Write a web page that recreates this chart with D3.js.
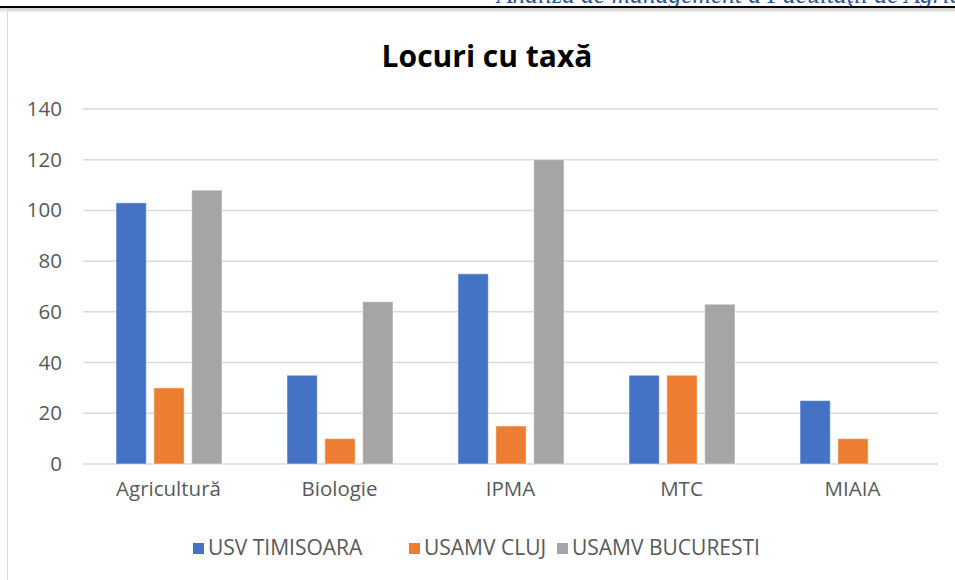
<!DOCTYPE html>
<html>
<head>
<meta charset="utf-8">
<script src="https://cdn.jsdelivr.net/npm/d3@7"></script>
<style>
	body { margin: 0; background: #fff; }
	svg { display: block; }
</style>
</head>
<body>

<svg width="955" height="580"></svg>

<script type="text/javascript">

	var categories = ["Agricultură", "Biologie", "IPMA", "MTC", "MIAIA"];
	var seriesNames = ["USV TIMISOARA", "USAMV CLUJ", "USAMV BUCURESTI"];
	var usvTimisoara = [103, 35, 75, 35, 25];
	var usamvCluj = [30, 10, 15, 35, 10];
	var usamvBucuresti = [108, 64, 120, 63, 0];
	var yTicks = [0, 20, 40, 60, 80, 100, 120, 140];
	var colors = ["#4472C4", "#ED7D31", "#A5A5A5"];

	var values = [usvTimisoara, usamvCluj, usamvBucuresti];
	var rows = categories.map(function(c, i) {
		return { cat: c, vals: values.map(function(s) { return s[i]; }) };
	});

	var svg = d3.select("svg");
	var font = "Open Sans, Liberation Sans, sans-serif";

	// page header text, cut off by the top edge
	svg.append("text")
		.attr("x", 497)
		.attr("y", 3)
		.attr("font-family", "Liberation Serif, DejaVu Serif, serif")
		.attr("font-style", "italic")
		.attr("font-size", 25.5)
		.attr("fill", "#2F5496")
		.text("Analiza de management a Facultăţii de Agricultură");

	// shadow under the header rule
	var grad = svg.append("defs").append("linearGradient")
		.attr("id", "shade").attr("x1", 0).attr("y1", 0).attr("x2", 0).attr("y2", 1);
	grad.append("stop").attr("offset", "0%").attr("stop-color", "#cfcfcf");
	grad.append("stop").attr("offset", "100%").attr("stop-color", "#ffffff");
	svg.append("rect").attr("x", 0).attr("y", 8).attr("width", 955).attr("height", 5).attr("fill", "url(#shade)");

	svg.append("line")
		.attr("x1", 0).attr("x2", 955).attr("y1", 7).attr("y2", 7)
		.attr("stroke", "#000").attr("stroke-width", 2);

	// chart frame
	svg.append("rect")
		.attr("x", 7.5).attr("y", 10.5)
		.attr("width", 1000).attr("height", 600)
		.attr("fill", "none")
		.attr("stroke", "#d9d9d9");

	var x0 = d3.scaleBand().domain(categories).range([83, 938]).paddingInner(0).paddingOuter(0);
	var x1 = d3.scaleBand().domain(seriesNames).range([33, 139]).paddingInner(0.2);
	var y = d3.scaleLinear().domain([0, 140]).range([464, 109]);

	// gridlines
	svg.append("g").selectAll("line").data(yTicks).enter().append("line")
		.attr("x1", 83).attr("x2", 938)
		.attr("y1", function(d) { return y(d); })
		.attr("y2", function(d) { return y(d); })
		.attr("stroke", "#d9d9d9")
		.attr("stroke-width", 1.5);

	// y axis labels
	var yAxis = d3.axisLeft(y).tickValues(yTicks).tickSize(0).tickPadding(0);
	var gy = svg.append("g").attr("transform", "translate(62,0)").call(yAxis);
	gy.select(".domain").remove();
	gy.selectAll("text")
		.attr("font-family", font)
		.attr("font-size", 20.5)
		.attr("fill", "#595959");

	// bars
	var grp = svg.append("g").selectAll("g").data(rows).enter().append("g")
		.attr("transform", function(d) { return "translate(" + x0(d.cat) + ",0)"; });

	grp.selectAll("rect").data(function(d) { return d.vals; }).enter().append("rect")
		.filter(function(d) { return d > 0; })
		.attr("x", function(d, i) { return x1(seriesNames[i]); })
		.attr("y", function(d) { return y(d); })
		.attr("width", x1.bandwidth())
		.attr("height", function(d) { return y(0) - y(d); })
		.attr("fill", function(d, i) { return colors[i]; })
		.attr("stroke", "#ffffff")
		.attr("stroke-opacity", 0.5)
		.attr("stroke-width", 1);

	// x axis labels
	var xAxis = d3.axisBottom(x0).tickSize(0).tickPadding(0);
	var gx = svg.append("g").attr("transform", "translate(0,481)").call(xAxis);
	gx.select(".domain").remove();
	gx.selectAll("text")
		.attr("font-family", font)
		.attr("font-size", 20.5)
		.attr("fill", "#595959");

	// title
	svg.append("text")
		.attr("x", 487)
		.attr("y", 67)
		.attr("text-anchor", "middle")
		.attr("font-family", font)
		.attr("font-weight", "bold")
		.attr("font-size", 30)
		.attr("fill", "#000")
		.text("Locuri cu taxă");

	// legend
	var legendX = [193, 409, 557];
	var leg = svg.append("g").selectAll("g").data(seriesNames).enter().append("g")
		.attr("transform", function(d, i) { return "translate(" + legendX[i] + ",548)"; });
	leg.append("rect")
		.attr("x", 0).attr("y", -5)
		.attr("width", 11).attr("height", 11)
		.attr("fill", function(d, i) { return colors[i]; });
	leg.append("text")
		.attr("x", 15).attr("y", 0)
		.attr("dy", "0.35em")
		.attr("font-family", font)
		.attr("font-size", 21)
		.attr("fill", "#595959")
		.text(function(d) { return d; });

</script>

</body>
</html>
